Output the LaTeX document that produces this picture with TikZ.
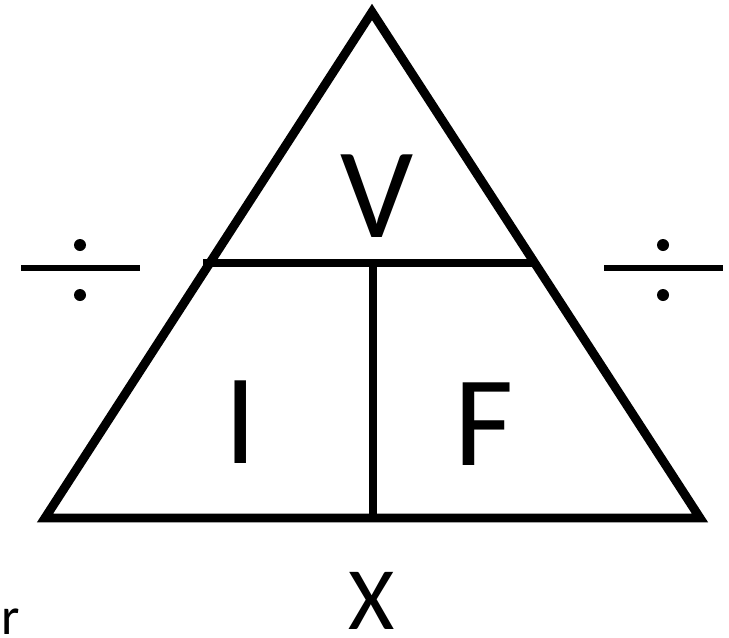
\documentclass[tikz,border=0pt]{standalone}
\usepackage{fontspec}
\setmainfont{Carlito}
\usetikzlibrary{positioning}

\begin{document}
\begin{tikzpicture}[x=0.03cm,y=-0.03cm,
  edge/.style={line width=7.6pt},
  divline/.style={line width=4.3pt},
  letter/.style={inner sep=0pt,anchor=base,font=\fontsize{110}{110}\selectfont}]
\useasboundingbox (0,0) rectangle (729,637);
% corners of the triangle
\coordinate (top) at (372,12);
\coordinate (bl) at (45,518);
\coordinate (br) at (700,518);
\coordinate (ml) at (203,263);
\coordinate (mr) at (537,263);
\coordinate (mid) at (373,263);
\coordinate (bm) at (373,518);
\draw[edge,line join=miter,miter limit=10] (top) -- (bl) -- (br) -- cycle;
\draw[edge] (ml) -- (mr);
\draw[edge] (mid) -- (bm);
% divide signs
\foreach \cx/\xa/\xb in {80/21/140,663/604/723}{
  \draw[divline] (\xa,268) -- (\xb,268);
  \fill (\cx,245) circle[radius=6];
  \fill (\cx,295) circle[radius=6];
}
\node[letter] (V) at (377,237) {V};
\node[letter] (I) at (241,463) {I};
\node[letter] (F) at (484,465) {F};
\node[letter,font=\fontsize{76}{76}\selectfont] (X) at (372,629) {X};
\node[letter,anchor=base west,font=\fontsize{45}{45}\selectfont] (r) at (1,634) {r};
\end{tikzpicture}
\end{document}
